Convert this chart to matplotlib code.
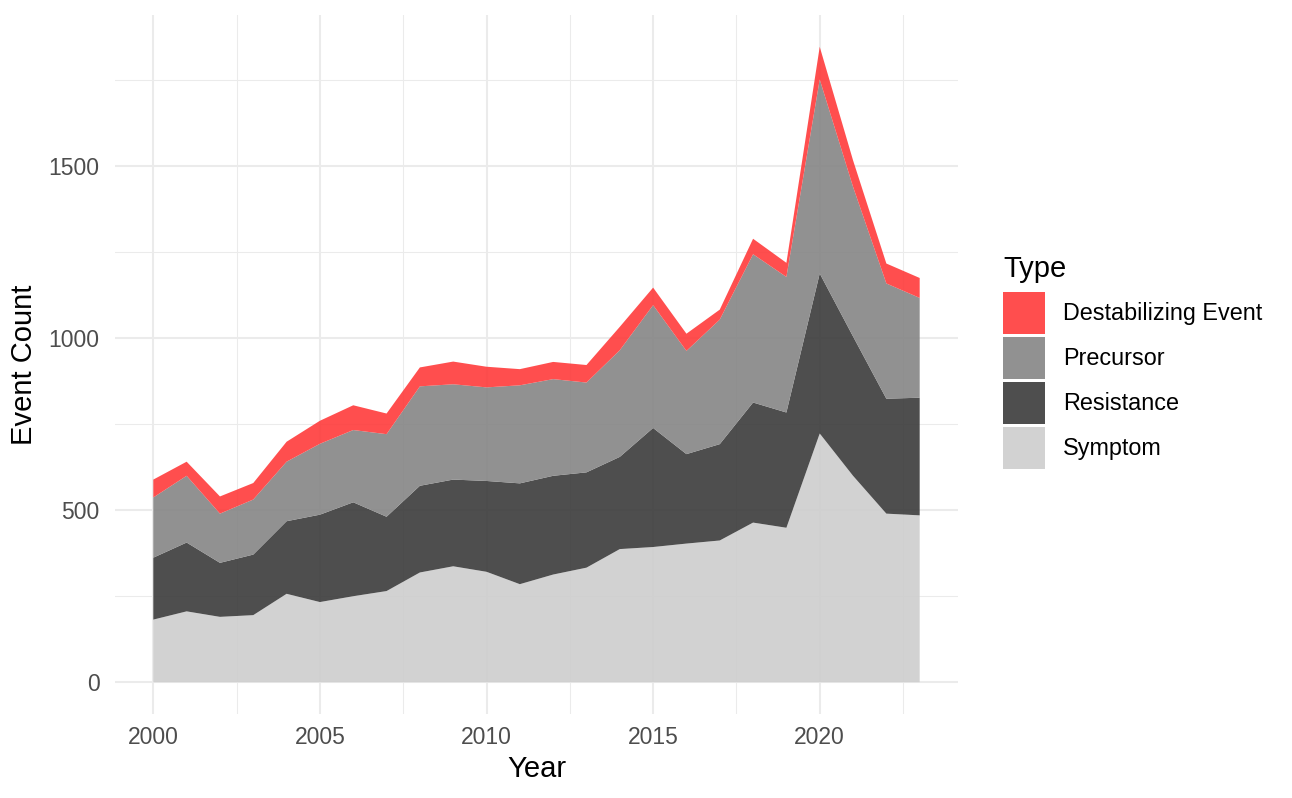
import matplotlib
matplotlib.use('Agg')
import matplotlib.pyplot as plt
from matplotlib.patches import Patch
from matplotlib.ticker import MultipleLocator

plt.rcParams.update({
    'font.family': ['Liberation Sans', 'DejaVu Sans'],
    'axes.spines.top': False,
    'axes.spines.right': False,
    'axes.spines.left': False,
    'axes.spines.bottom': False,
})

years = list(range(2000, 2024))
symptom = [182, 206, 190, 195, 257, 233, 250, 265, 319, 337, 321, 285,
           313, 333, 387, 393, 403, 412, 464, 449, 723, 600, 490, 485]
resistance = [180, 200, 157, 176, 211, 254, 273, 216, 252, 252, 264, 293,
              287, 277, 268, 346, 260, 280, 349, 335, 465, 405, 334, 342]
precursor = [175, 194, 143, 160, 173, 206, 210, 240, 289, 277, 272, 285,
             281, 261, 310, 357, 300, 362, 431, 394, 564, 435, 335, 290]
destabilizing = [52, 41, 50, 48, 58, 67, 72, 60, 55, 66, 60, 47,
                 50, 51, 68, 51, 50, 29, 45, 41, 95, 77, 58, 58]

type_names = ['Destabilizing Event', 'Precursor', 'Resistance', 'Symptom']
type_colors = {'Destabilizing Event': '#FF3B3B', 'Precursor': '#858585',
               'Resistance': '#3B3B3B', 'Symptom': '#CECECE'}

fig = plt.figure(figsize=(12.92, 7.98), dpi=100)
ax = fig.add_axes([115 / 1292, 84 / 798, 843 / 1292, 699 / 798])

# stacked from bottom: Symptom, Resistance, Precursor, Destabilizing Event
ax.stackplot(years, symptom, resistance, precursor, destabilizing,
             colors=[type_colors[t] for t in type_names[::-1]],
             alpha=0.9, linewidth=0, zorder=3)

total_max = max(s + r + p + d for s, r, p, d in
                zip(symptom, resistance, precursor, destabilizing))
xpad = (years[-1] - years[0]) * 0.05
ax.set_xlim(years[0] - xpad, years[-1] + xpad)
ax.set_ylim(-total_max * 0.05, total_max * 1.05)

ax.xaxis.set_major_locator(MultipleLocator(5))
ax.xaxis.set_minor_locator(MultipleLocator(2.5))
ax.yaxis.set_major_locator(MultipleLocator(500))
ax.yaxis.set_minor_locator(MultipleLocator(250))
ax.grid(True, which='major', color='#EBEBEB', linewidth=1.5, zorder=0)
ax.grid(True, which='minor', color='#EBEBEB', linewidth=0.75, zorder=0)
ax.set_axisbelow(True)
ax.tick_params(which='both', length=0, labelsize=16.5, labelcolor='#4D4D4D')
ax.tick_params(axis='y', pad=11)
ax.tick_params(axis='x', pad=9)

ax.set_xlabel('Year', fontsize=21, color='black', labelpad=4)
ax.set_ylabel('Event Count', fontsize=21, color='black', labelpad=8)

handles = [Patch(facecolor=type_colors[t], alpha=0.9, edgecolor='none', label=t)
           for t in type_names]
leg = fig.legend(handles=handles, title='Type', loc='upper left',
                 bbox_to_anchor=(994 / 1292, 1 - 246 / 798), frameon=False,
                 fontsize=16.8, title_fontsize=21, handlelength=1.8,
                 handleheight=2.4, labelspacing=0.13, handletextpad=0.75,
                 borderaxespad=0)
leg._legend_box.align = 'left'
leg._legend_box.sep = 6

fig.savefig('out.png', dpi=100)
plt.close()
